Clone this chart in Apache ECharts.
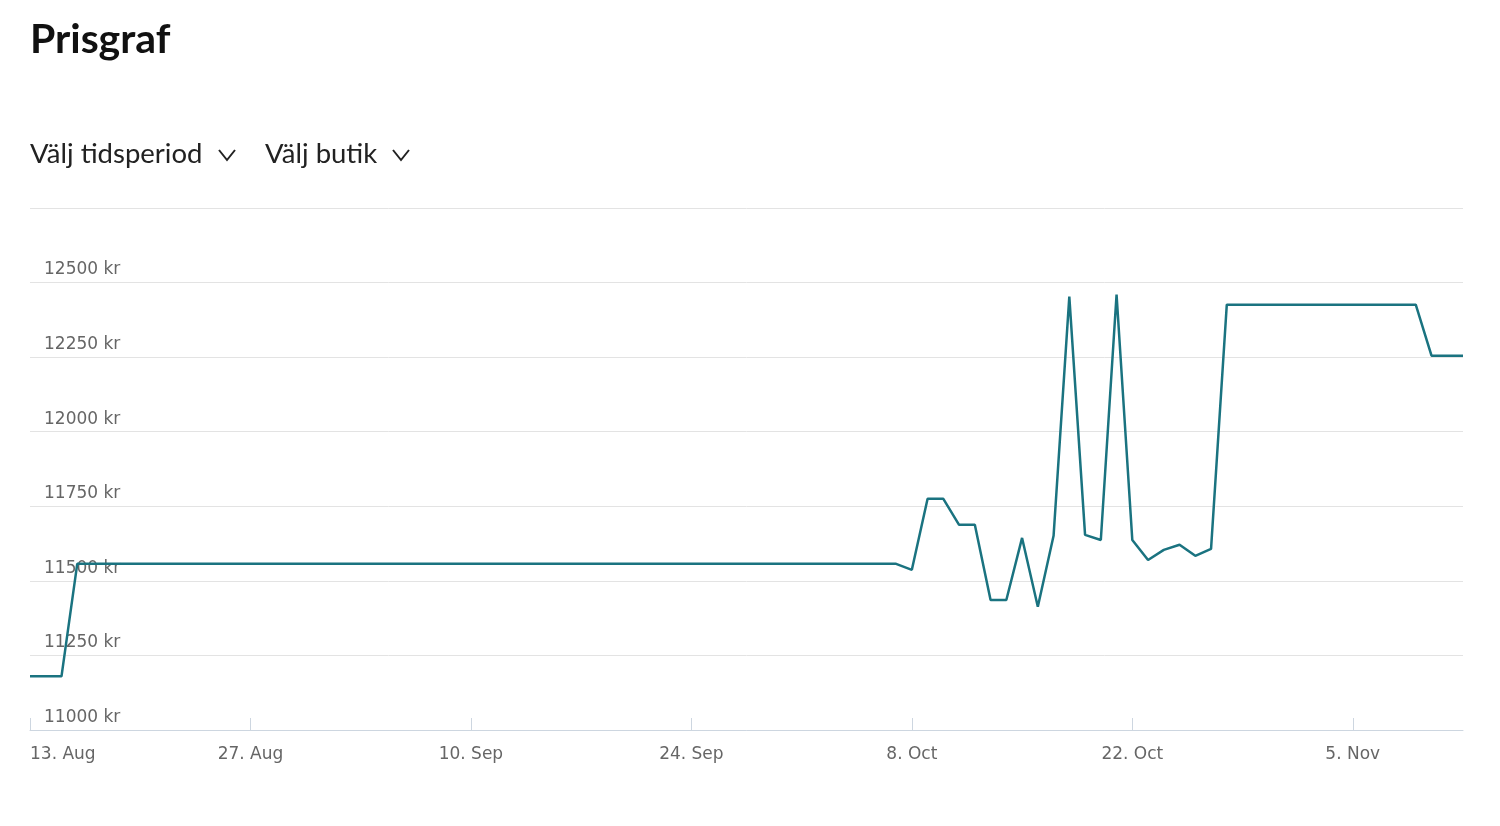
<!DOCTYPE html>
<html><head><meta charset="utf-8">
<script src="https://cdn.jsdelivr.net/npm/echarts@6/dist/echarts.min.js"></script>
<style>html,body{margin:0;padding:0;background:#fff}#c{width:1500px;height:826px}</style>
</head><body><div id="c"></div>
<script>
const tickLabels = ['13. Aug','27. Aug','10. Sep','24. Sep','8. Oct','22. Oct','5. Nov'];
const days = [0,2,3,55,56,57,58,59,60,61,62,63,64,65,66,67,68,69,70,71,72,73,74,75,76,88,89,91];
const prices = [11180,11180,11557,11557,11537,11775,11775,11688,11688,11436,11436,11644,11413,11651,12453,11654,11637,12460,11637,11570,11604,11621,11584,11607,12426,12426,12255,12255];
const chart = echarts.init(document.getElementById('c'));
const font = 'Lato, "Open Sans", sans-serif';
const axFont = '"DejaVu Sans", sans-serif';
chart.setOption({
  animation:false,
  grid:{left:30,right:37,top:208,bottom:96},
  graphic:[
    {type:'text',left:30,top:19,style:{text:'Prisgraf',font:'bold 41px '+font,fill:'#111'}},
    {type:'text',left:30,top:140,style:{text:'Välj tidsperiod',font:'27.5px '+font,fill:'#222'}},
    {type:'polyline',shape:{points:[[219,150],[227,160],[235,150]]},style:{stroke:'#222',lineWidth:2,fill:null}},
    {type:'text',left:265,top:140,style:{text:'Välj butik',font:'27.5px '+font,fill:'#222'}},
    {type:'polyline',shape:{points:[[393,150],[401,160],[409,150]]},style:{stroke:'#222',lineWidth:2,fill:null}}
  ],
  xAxis:{type:'value',min:0,max:91,interval:14,
    axisLine:{show:true,lineStyle:{color:'#cdd6e0'}},
    axisTick:{show:true,length:-12,lineStyle:{color:'#cdd6e0'}},
    splitLine:{show:false},
    axisLabel:{color:'#666',fontSize:17,fontFamily:axFont,margin:16,showMaxLabel:false,alignMinLabel:'left',
      formatter:v=>tickLabels[Math.round(v/14)]||''}},
  yAxis:{type:'value',min:11000,max:12750,interval:250,
    axisLine:{show:false},axisTick:{show:false},
    splitLine:{lineStyle:{color:'#e3e3e3'}},
    axisLabel:{inside:true,verticalAlign:'bottom',margin:14,padding:[0,0,4,0],color:'#666',fontSize:17,fontFamily:axFont,
      formatter:v=>v>=12750?'':v+' kr'}},
  series:[{type:'line',data:days.map((d,i)=>[d,prices[i]]),showSymbol:false,
    lineStyle:{color:'#1a7380',width:2.5},z:3}]
});
</script></body></html>
